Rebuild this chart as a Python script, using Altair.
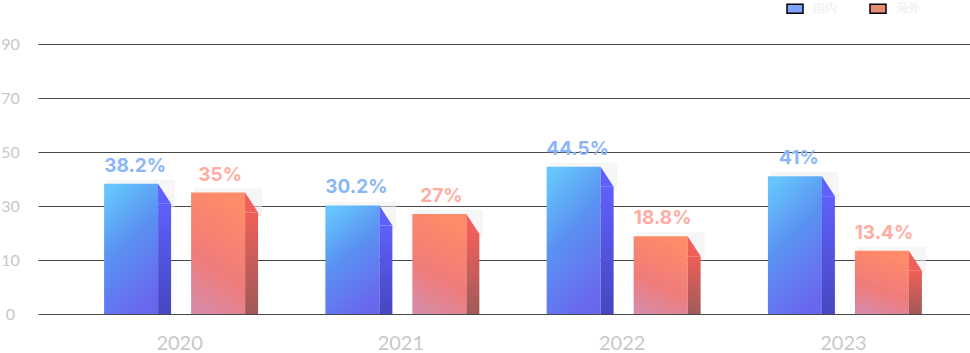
import altair as alt
import pandas as pd

years = ["2020", "2021", "2022", "2023"]
series_names = ["国内", "海外"]
blue_values = [38.2, 30.2, 44.5, 41]
red_values = [35, 27, 18.8, 13.4]
blue_labels = ["38.2%", "30.2%", "44.5%", "41%"]
red_labels = ["35%", "27%", "18.8%", "13.4%"]
y_ticks = [0, 10, 30, 50, 70, 90]

rows = []
for i, y in enumerate(years):
    rows.append({"year": y, "series": series_names[0], "value": blue_values[i], "label": blue_labels[i]})
    rows.append({"year": y, "series": series_names[1], "value": red_values[i], "label": red_labels[i]})
df = pd.DataFrame(rows)

H = 270
W = 932
S = 9  # horizontal shift of the bar groups relative to the point positions
xscale = alt.Scale(type="point", padding=0.606)
yscale = alt.Scale(domain=y_ticks, range=[H, 216, 162, 108, 54, 0], nice=False, zero=False)

x_enc = alt.X("year:N", scale=xscale, sort=years,
              axis=alt.Axis(title=None, labelAngle=0, labelFontSize=20, labelColor="#c8c8c8",
                            labelFont="Lato", labelPadding=19, labelOffset=7,
                            domain=False, ticks=False, grid=False))
y_enc = alt.Y("value:Q", scale=yscale,
              axis=alt.Axis(title=None, values=y_ticks, grid=True, gridColor="#474747", gridWidth=1,
                            domain=False, ticks=False, labelAlign="center", labelPadding=28,
                            labelFontSize=16, labelColor="#c8c8c8", labelFont="Lato"))


def grad(stops, x1=0, y1=0, x2=0, y2=1):
    return alt.Gradient(gradient="linear", x1=x1, y1=y1, x2=x2, y2=y2,
                        stops=[alt.GradientStop(color=c, offset=o) for o, c in stops])


base = alt.Chart(df)
blue = base.transform_filter(alt.datum.series == series_names[0])
red = base.transform_filter(alt.datum.series == series_names[1])

enc = dict(x=x_enc, x2=alt.X2("year:N"), y=y_enc, y2=alt.datum(0))
top_enc = dict(x=x_enc, x2=alt.X2("year:N"), y=y_enc, y2=alt.Y2("value:Q"))

shadow_fill = grad([(0, "#ffffff"), (0.3, "#ececec"), (1, "#ffffff")], x1=0, x2=0, y1=0, y2=1)
blue_shadow = blue.mark_rect(xOffset=-74 + S, x2Offset=-6 + S, yOffset=-4, y2Offset=24,
                             fill="#eeeeee", opacity=0.55).encode(**top_enc)
red_shadow = red.mark_rect(xOffset=13 + S, x2Offset=81 + S, yOffset=-4, y2Offset=24,
                           fill="#eeeeee", opacity=0.55).encode(**top_enc)

blue_front = blue.mark_rect(xOffset=-77 + S, x2Offset=-23 + S,
                            fill=grad([(0, "#66c6fb"), (0.45, "#5a92f2"), (1, "#6868ee")], x1=0.2, x2=0.6)).encode(**enc)
blue_side = blue.mark_rect(xOffset=-23 + S, x2Offset=-10 + S, yOffset=20,
                           fill=grad([(0, "#5f60fb"), (1, "#4646c0")])).encode(**enc)
red_front = red.mark_rect(xOffset=10 + S, x2Offset=64 + S,
                          fill=grad([(0, "#ff8c68"), (0.6, "#f07c7a"), (1, "#d98aa4")], x1=0.6, x2=0.3)).encode(**enc)
red_side = red.mark_rect(xOffset=64 + S, x2Offset=77 + S, yOffset=20,
                         fill=grad([(0, "#ef5f58"), (1, "#a05a5a")])).encode(**enc)

tri_path = "M-0.65,-1L0.65,1L-0.65,1Z"
blue_tri = blue.mark_point(shape=tri_path, size=400, filled=True, opacity=1, fill="#6060ff",
                           strokeWidth=0, xOffset=-16.5 + S, yOffset=10).encode(x=x_enc, y=y_enc)
red_tri = red.mark_point(shape=tri_path, size=400, filled=True, opacity=1, fill="#f0605a",
                         strokeWidth=0, xOffset=70.5 + S, yOffset=10).encode(x=x_enc, y=y_enc)

blue_text = blue.mark_text(xOffset=-46 + S, dy=-12, baseline="alphabetic", font="Inter", fontWeight="bold",
                           fontSize=19, color="#8ab6f8").encode(x=x_enc, y=y_enc, text="label:N")
red_text = red.mark_text(xOffset=39 + S, dy=-12, baseline="alphabetic", font="Inter", fontWeight="bold",
                         fontSize=19, color="#ffaca2").encode(x=x_enc, y=y_enc, text="label:N")

legend_layer = base.mark_square(opacity=0).encode(
    x=x_enc, y=y_enc,
    color=alt.Color("series:N", sort=series_names,
                    scale=alt.Scale(domain=series_names, range=["#80a2ff", "#e88c78"]),
                    legend=alt.Legend(orient="none", legendX=748, legendY=-44.5, direction="horizontal",
                                      title=None, symbolType="M-1,-0.56H1V0.56H-1Z", symbolSize=256,
                                      symbolStrokeColor="black", symbolStrokeWidth=1.5, symbolOpacity=1,
                                      labelColor="#eeeeee", labelFontSize=12, labelOffset=9,
                                      columnPadding=29, labelFont="Noto Sans CJK SC"))
)

chart = alt.layer(blue_shadow, red_shadow, blue_front, blue_side, blue_tri, red_front, red_side, red_tri,
                  blue_text, red_text, legend_layer).properties(
    width=W, height=H, background="white",
    padding={"left": 38, "top": 44, "right": 0, "bottom": 39},
    autosize=alt.AutoSizeParams(type="none"),
).configure_view(stroke=None)

chart.save("out.html", embed_options={"renderer": "svg", "actions": False})
